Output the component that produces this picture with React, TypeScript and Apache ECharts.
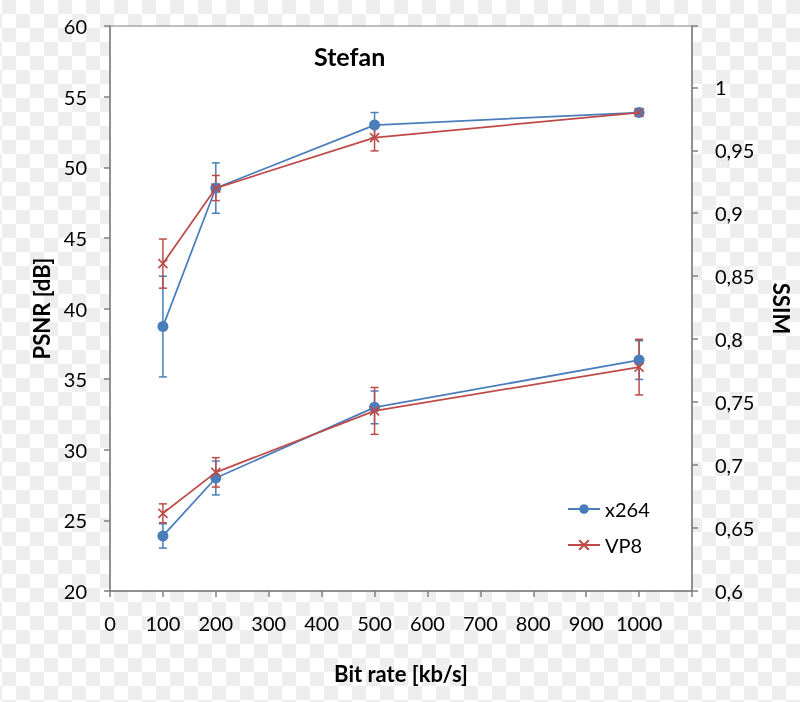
import React, { useEffect, useRef } from "react";
import * as echarts from "echarts";

const bitRates = [100, 200, 500, 1000];
const ssimX264 = [0.81, 0.92, 0.97, 0.98];
const ssimX264Err = [0.04, 0.02, 0.01, 0.002];
const ssimVP8 = [0.86, 0.92, 0.96, 0.98];
const ssimVP8Err = [0.0195, 0.01, 0.0105, 0.002];
const psnrX264 = [23.9, 28.0, 33.0, 36.35];
const psnrX264Err = [0.86, 1.2, 1.16, 1.37];
const psnrVP8 = [25.5, 28.4, 32.75, 35.85];
const psnrVP8Err = [0.67, 1.04, 1.66, 1.97];

const BLUE = "#4A7EBB";
const RED = "#BE4B48";
const FONT = "Lato";
const AXIS_GRAY = "#808080";

function pts(vals: number[]) {
  return bitRates.map((x, i) => [x, vals[i]]);
}
function errData(vals: number[], errs: number[]) {
  return bitRates.map((x, i) => [x, vals[i] - errs[i], vals[i] + errs[i]]);
}

function errSeries(name: string, vals: number[], errs: number[], yAxisIndex: number, color: string) {
  return {
    type: "custom",
    name,
    yAxisIndex,
    z: 1,
    data: errData(vals, errs),
    encode: { x: 0, y: [1, 2] },
    renderItem: (params: any, api: any) => {
      const x = api.value(0);
      const p1 = api.coord([x, api.value(1)]);
      const p2 = api.coord([x, api.value(2)]);
      const w = 4;
      const style = { stroke: color, lineWidth: 1.5 };
      return {
        type: "group",
        children: [
          { type: "line", shape: { x1: p1[0], y1: p1[1], x2: p2[0], y2: p2[1] }, style },
          { type: "line", shape: { x1: p1[0] - w, y1: p1[1], x2: p1[0] + w, y2: p1[1] }, style },
          { type: "line", shape: { x1: p2[0] - w, y1: p2[1], x2: p2[0] + w, y2: p2[1] }, style },
        ],
      };
    },
  };
}

const X_SYMBOL = "path://M0,0L10,10M10,0L0,10";

function x264Line(vals: number[], yAxisIndex: number) {
  return {
    type: "line",
    name: "x264",
    yAxisIndex,
    z: 3,
    data: pts(vals),
    symbol: "circle",
    symbolSize: 11,
    itemStyle: { color: BLUE },
    lineStyle: { color: BLUE, width: 1.75 },
  };
}
function vp8Line(vals: number[], yAxisIndex: number) {
  return {
    type: "line",
    name: "VP8",
    yAxisIndex,
    z: 4,
    data: pts(vals),
    symbol: X_SYMBOL,
    symbolSize: 9,
    itemStyle: { color: "rgba(0,0,0,0)", borderColor: RED, borderWidth: 1.6 },
    lineStyle: { color: RED, width: 1.75 },
  };
}

const labelStyle = { color: "#000", fontFamily: FONT, fontSize: 20 };
const nameStyle = { color: "#000", fontFamily: FONT, fontSize: 22, fontWeight: "bold" as const };

export default function App() {
  const ref = useRef<HTMLDivElement>(null);
  useEffect(() => {
    if (!ref.current) return;
    const chart = echarts.init(ref.current, undefined, { renderer: "svg" });
    chart.setOption({
      animation: false,
      title: {
        text: "Stefan",
        left: 309,
        top: 38,
        textStyle: { color: "#000", fontFamily: FONT, fontSize: 25, fontWeight: "bold" },
      },
      legend: {
        data: ["x264", "VP8"],
        orient: "vertical",
        left: 562,
        top: 494,
        itemWidth: 32,
        itemHeight: 12,
        itemGap: 16,
        textStyle: { color: "#000", fontFamily: FONT, fontSize: 20 },
      },
      grid: {
        left: 110,
        right: 108,
        top: 26,
        bottom: 111,
        show: true,
        backgroundColor: "#fff",
        borderColor: AXIS_GRAY,
        borderWidth: 1,
      },
      xAxis: {
        type: "value",
        min: 0,
        max: 1100,
        interval: 100,
        name: "Bit rate [kb/s]",
        nameLocation: "middle",
        nameGap: 71,
        nameTextStyle: nameStyle,
        axisLine: { show: true, lineStyle: { color: AXIS_GRAY, width: 1.5 } },
        axisTick: { show: true, inside: false, length: 6, lineStyle: { color: AXIS_GRAY, width: 1.5 } },
        axisLabel: {
          ...labelStyle,
          margin: 22,
          formatter: (v: number) => (v > 1000 ? "" : String(v)),
        },
        splitLine: { show: false },
      },
      yAxis: [
        {
          type: "value",
          position: "left",
          min: 20,
          max: 60,
          interval: 5,
          name: "PSNR [dB]",
          nameLocation: "middle",
          nameGap: 57,
          nameRotate: 90,
          nameTextStyle: nameStyle,
          axisLine: { show: true, lineStyle: { color: AXIS_GRAY, width: 1.5 } },
          axisTick: { show: true, inside: false, length: 6, lineStyle: { color: AXIS_GRAY, width: 1.5 } },
          axisLabel: { ...labelStyle, margin: 23 },
          splitLine: { show: false },
        },
        {
          type: "value",
          position: "right",
          min: 0.6,
          max: 1.0487,
          interval: 0.05,
          name: "SSIM",
          nameLocation: "middle",
          nameGap: 78,
          nameRotate: -90,
          nameTextStyle: nameStyle,
          axisLine: { show: true, lineStyle: { color: AXIS_GRAY, width: 1.5 } },
          axisTick: { show: true, inside: false, length: 6, lineStyle: { color: AXIS_GRAY, width: 1.5 } },
          axisLabel: {
            ...labelStyle,
            margin: 23,
            formatter: (v: number) => (v > 1.001 ? "" : String(+v.toFixed(2)).replace(".", ",")),
          },
          splitLine: { show: false },
        },
      ],
      series: [
        errSeries("x264 SSIM err", ssimX264, ssimX264Err, 1, BLUE),
        errSeries("VP8 SSIM err", ssimVP8, ssimVP8Err, 1, RED),
        errSeries("x264 PSNR err", psnrX264, psnrX264Err, 0, BLUE),
        errSeries("VP8 PSNR err", psnrVP8, psnrVP8Err, 0, RED),
        x264Line(ssimX264, 1),
        vp8Line(ssimVP8, 1),
        x264Line(psnrX264, 0),
        vp8Line(psnrVP8, 0),
      ],
    });
    return () => chart.dispose();
  }, []);
  return (
    <div
      style={{
        position: "fixed",
        left: 0,
        top: 0,
        width: 800,
        height: 702,
        background: "repeating-conic-gradient(#eeeeee 0% 25%, #ffffff 0% 50%) 16px 0 / 28px 28px",
      }}
    >
      <div ref={ref} style={{ width: 800, height: 702 }} />
    </div>
  );
}
